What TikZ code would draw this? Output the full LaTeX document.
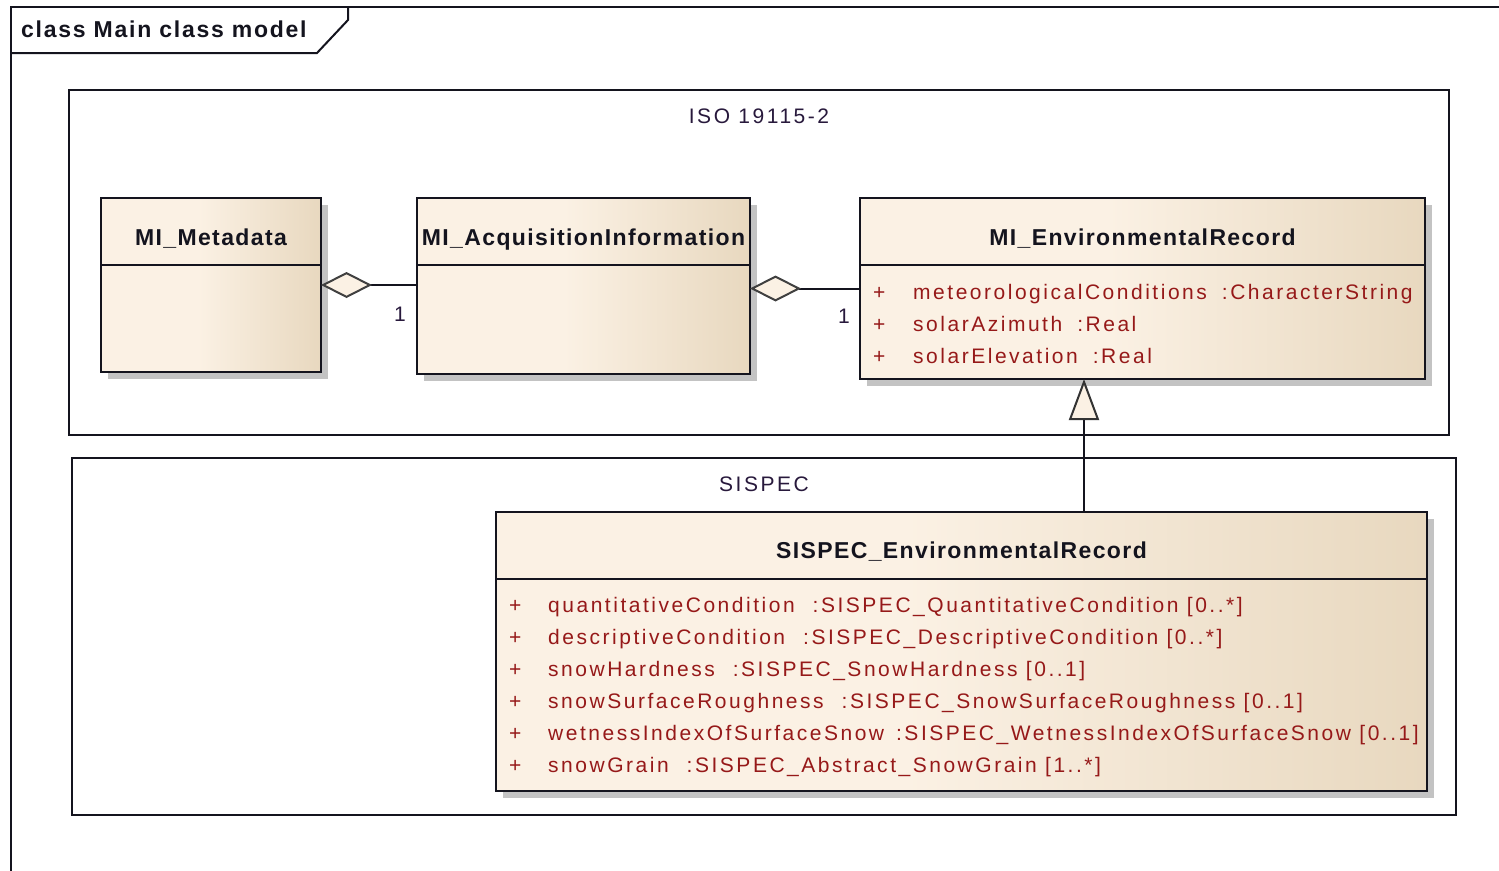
\documentclass[tikz,border=0pt]{standalone}
\usepackage{fontspec}
\setmainfont{Liberation Sans}
\newfontfamily\attrfont[LetterSpace=12.0]{Liberation Sans}
\newfontfamily\clsfont[LetterSpace=6.0]{Liberation Sans}
\newfontfamily\ttlfont[LetterSpace=7.5]{Liberation Sans}
\usetikzlibrary{arrows.meta,shadows}
\definecolor{boxlight}{RGB}{251,241,228}
\definecolor{boxdark}{RGB}{232,216,191}
\definecolor{attrred}{RGB}{150,25,25}
\definecolor{inkdark}{RGB}{20,20,30}
\definecolor{lblink}{RGB}{40,25,60}
\definecolor{shadowgray}{RGB}{195,195,195}
\pgfdeclarehorizontalshading{classshade}{100bp}{color(0bp)=(boxlight); color(25bp)=(boxlight); color(47bp)=(boxlight); color(75bp)=(boxdark); color(100bp)=(boxdark)}
\tikzset{
  classbox/.style={draw=inkdark, line width=2.2pt, shade, shading=classshade,
    inner sep=0pt, outer sep=0pt, anchor=north west,
    drop shadow={shadow xshift=7pt, shadow yshift=-7pt, fill=shadowgray, opacity=1}},
  divider/.style={draw=inkdark, line width=2.2pt},
  pkgbox/.style={draw=inkdark, line width=2pt, inner sep=0pt, outer sep=0pt, anchor=north west},
  framepath/.style={draw=inkdark, line width=2pt},
  clsname/.style={text=inkdark, inner sep=0pt, anchor=base,
    font=\clsfont\bfseries\fontsize{23pt}{27pt}\selectfont},
  titletext/.style={text=inkdark, inner sep=0pt, anchor=base west,
    font=\ttlfont\bfseries\fontsize{23pt}{27pt}\selectfont},
  attr/.style={text=attrred, inner sep=0pt, anchor=base west,
    font=\attrfont\fontsize{21pt}{25pt}\selectfont},
  lbl/.style={text=lblink, inner sep=0pt, anchor=base,
    font=\attrfont\fontsize{21pt}{25pt}\selectfont},
  aggr/.style={draw=inkdark, line width=2pt,
    arrows={Diamond[fill=boxlight, color=black!75, length=51pt, width=26pt, line width=2pt]-}},
  gener/.style={draw=inkdark, line width=2pt,
    arrows={-Triangle[fill=boxlight, color=black!80, length=41pt, width=30pt, line width=2pt]}}
}
\begin{document}
\begin{tikzpicture}[x=1pt, y=-1pt]
\useasboundingbox (0,0) rectangle (1499,870);
\clip (0,0) rectangle (1499,870);
\fill[white] (0,0) rectangle (1499,870);

% outer frame
\draw[framepath] (11,880) -- (11,7) -- (1510,7);
\draw[framepath] (348,7) -- (348,20) -- (317,53) -- (11,53);
\node[titletext] (title) at (21,37) {class Main class model};

% packages
\node[pkgbox, minimum width=1380pt, minimum height=345pt] (iso) at (69,90) {};
\node[lbl] (isolbl) at (iso.north |- 0,123) {ISO 19115-2};
\node[pkgbox, minimum width=1384pt, minimum height=357pt] (sispkg) at (72,458) {};
\node[lbl] (sislbl) at (sispkg.north |- 0,491) {SISPEC};

% classes
\node[classbox, minimum width=220pt, minimum height=174pt] (meta) at (101,198) {};
\draw[divider] (meta.west |- 0,265) -- (meta.east |- 0,265);
\node[clsname] (metaname) at (meta.north |- 0,245) {MI\_Metadata};

\node[classbox, minimum width=333pt, minimum height=176pt] (acq) at (417,198) {};
\draw[divider] (acq.west |- 0,265) -- (acq.east |- 0,265);
\node[clsname] (acqname) at (acq.north |- 0,245) {MI\_AcquisitionInformation};

\node[classbox, minimum width=565pt, minimum height=181pt] (envr) at (860,198) {};
\draw[divider] (envr.west |- 0,265) -- (envr.east |- 0,265);
\node[clsname] (envrname) at (envr.north |- 0,245) {MI\_EnvironmentalRecord};
\node[attr] (e1) at (873,299) {\makebox[40pt][l]{+}meteorologicalConditions\hspace{15pt}:CharacterString};
\node[attr] (e2) at (873,331) {\makebox[40pt][l]{+}solarAzimuth\hspace{15pt}:Real};
\node[attr] (e3) at (873,363) {\makebox[40pt][l]{+}solarElevation\hspace{15pt}:Real};

\node[classbox, minimum width=931pt, minimum height=279pt] (sisp) at (496,512) {};
\draw[divider] (sisp.west |- 0,579) -- (sisp.east |- 0,579);
\node[clsname] (sispname) at (sisp.north |- 0,558) {SISPEC\_EnvironmentalRecord};
\node[attr] (s1) at (509,612) {\makebox[39pt][l]{+}quantitativeCondition\hspace{18pt}:SISPEC\_QuantitativeCondition [0..*]};
\node[attr] (s2) at (509,644) {\makebox[39pt][l]{+}descriptiveCondition\hspace{18pt}:SISPEC\_DescriptiveCondition [0..*]};
\node[attr] (s3) at (509,676) {\makebox[39pt][l]{+}snowHardness\hspace{18pt}:SISPEC\_SnowHardness [0..1]};
\node[attr] (s4) at (509,708) {\makebox[39pt][l]{+}snowSurfaceRoughness\hspace{18pt}:SISPEC\_SnowSurfaceRoughness [0..1]};
\node[attr] (s5) at (509,740) {\makebox[39pt][l]{+}wetnessIndexOfSurfaceSnow\hspace{12pt}:SISPEC\_WetnessIndexOfSurfaceSnow [0..1]};
\node[attr] (s6) at (509,772) {\makebox[39pt][l]{+}snowGrain\hspace{18pt}:SISPEC\_Abstract\_SnowGrain [1..*]};

% connectors
\draw[aggr] (meta.east) -- (acq.west |- meta.east);
\node[lbl] (mult1) at (400,321) {1};
\draw[aggr] (acq.east |- envr.west) -- (envr.west);
\node[lbl] (mult2) at (844,323) {1};
\coordinate (gx) at (1084,0);
\draw[gener] (sisp.north -| gx) -- (envr.south -| gx);
\end{tikzpicture}
\end{document}
